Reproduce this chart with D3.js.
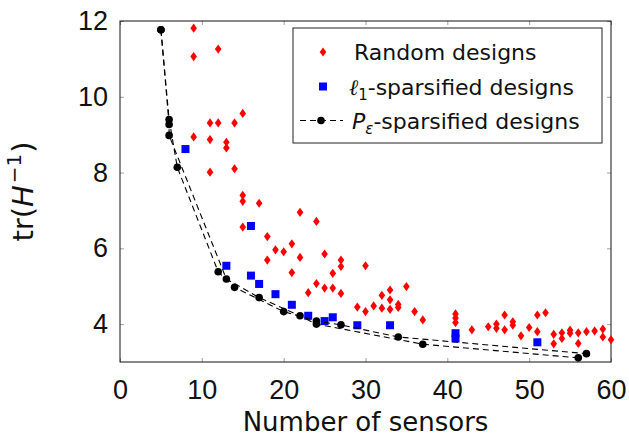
<!DOCTYPE html>
<html>
<head>
<meta charset="utf-8">
<script src="https://cdn.jsdelivr.net/npm/d3@7"></script>
<style>
  body { margin: 0; background: #fff; }
  svg { font-family: "DejaVu Sans", sans-serif; }
</style>
</head>
<body>
<svg width="629" height="438"></svg>
<script>
// canvas size and plot frame
const w = 629;
const h = 438;
const padLeft = 120, padRight = 611, padTop = 21, padBottom = 362;

// random designs (number of sensors, trace)
const randomX = [9, 9, 9, 11, 11, 11, 12, 12, 13, 13, 14, 14, 15, 15, 15, 15,
                 17, 18, 18, 19, 20, 21, 21, 22, 22, 23, 24, 24, 25, 25, 26, 26,
                 27, 27, 27, 29, 30, 30, 31, 32, 32, 33, 33, 33, 34, 34, 35, 36,
                 37, 41, 41, 41, 43, 45, 46, 46, 47, 47, 48, 48, 49, 50, 51, 51,
                 52, 53, 53, 54, 54, 55, 55, 56, 56, 57, 58, 59, 59, 60];
const randomY = [11.81, 11.06, 8.94, 9.31, 8.87, 8.01, 11.26, 9.31, 8.80, 8.65, 9.31, 8.10, 9.56, 7.40, 7.24, 6.56,
                 7.19, 6.31, 5.69, 5.96, 5.91, 6.12, 5.36, 6.95, 5.76, 4.83, 6.71, 5.07, 5.85, 4.95, 5.34, 4.95,
                 5.69, 5.52, 4.81, 4.45, 5.54, 4.33, 4.48, 4.76, 4.42, 4.90, 4.64, 4.39, 4.52, 4.44, 4.99, 4.33,
                 4.11, 4.27, 4.16, 4.04, 3.85, 3.93, 4.00, 3.89, 4.24, 3.85, 4.06, 3.97, 3.69, 3.91, 4.24, 3.80,
                 4.30, 3.73, 3.48, 3.77, 3.62, 3.84, 3.76, 3.77, 3.49, 3.80, 3.82, 3.87, 3.66, 3.59];

// l1-sparsified designs
const l1X = [8, 13, 16, 16, 17, 19, 21, 23, 25, 26, 29, 33, 41, 41, 51];
const l1Y = [8.62, 5.54, 6.59, 5.28, 5.06, 4.79, 4.51, 4.22, 4.08, 4.18, 3.97, 3.97, 3.76, 3.62, 3.52];

// P_eps-sparsified designs, two dashed runs
const pAX = [5, 6, 7, 12, 14, 20, 24, 27, 34, 57];
const pAY = [11.77, 9.40, 8.14, 5.38, 4.97, 4.33, 4.08, 3.98, 3.66, 3.22];
const pBX = [5, 6, 6, 13, 17, 22, 24, 37, 56];
const pBY = [11.77, 9.27, 8.98, 5.19, 4.70, 4.22, 4.00, 3.47, 3.11];

const xTicks = [0, 10, 20, 30, 40, 50, 60];
const yTicks = [4, 6, 8, 10, 12];

const svg = d3.select("svg")
              .attr("width", w)
              .attr("height", h);

const x = d3.scaleLinear().domain([0, 60]).range([padLeft, padRight]);
const y = d3.scaleLinear().domain([3, 12]).range([padBottom, padTop]);

// axes with inward grey ticks on all four sides
function styleAxis(g) {
    g.select(".domain").remove();
    g.selectAll(".tick line").attr("stroke", "#a0a0a0").attr("stroke-width", 1);
    g.selectAll(".tick text")
     .attr("fill", "#111")
     .style("font-family", "Liberation Sans, Arial, sans-serif")
     .style("font-size", "27px");
}

svg.append("g")
   .attr("transform", "translate(0," + padBottom + ")")
   .call(d3.axisBottom(x).tickValues(xTicks).tickSize(-4).tickPadding(13))
   .call(styleAxis)
   .selectAll(".tick text").attr("dy", "0.9em");

svg.append("g")
   .attr("transform", "translate(0," + padTop + ")")
   .call(d3.axisTop(x).tickValues(xTicks).tickSize(-4).tickFormat(""))
   .call(styleAxis);

svg.append("g")
   .attr("transform", "translate(" + padLeft + ",0)")
   .call(d3.axisLeft(y).tickValues(yTicks).tickSize(-4).tickPadding(12))
   .call(styleAxis);

svg.append("g")
   .attr("transform", "translate(" + padRight + ",0)")
   .call(d3.axisRight(y).tickValues(yTicks).tickSize(-4).tickFormat(""))
   .call(styleAxis);

// plot frame
svg.append("rect")
   .attr("x", padLeft).attr("y", padTop)
   .attr("width", padRight - padLeft).attr("height", padBottom - padTop)
   .attr("fill", "none").attr("stroke", "#111").attr("stroke-width", 1);

// random designs as red diamonds
const diamond = "M0,-4.6L3.3,0L0,4.6L-3.3,0Z";
svg.selectAll(".rnd")
   .data(randomX)
   .enter()
   .append("path")
   .attr("class", "rnd")
   .attr("d", diamond)
   .attr("transform", (d, i) => "translate(" + x(d) + "," + y(randomY[i]) + ")")
   .attr("fill", "#ff0000");

// l1 designs as blue squares
svg.selectAll(".l1")
   .data(l1X)
   .enter()
   .append("rect")
   .attr("class", "l1")
   .attr("x", d => x(d) - 4)
   .attr("y", (d, i) => y(l1Y[i]) - 4)
   .attr("width", 8).attr("height", 8)
   .attr("fill", "#0000ff");

// dashed P_eps lines
const line = d3.line().x(d => x(d[0])).y(d => y(d[1]));
[[pAX, pAY], [pBX, pBY]].forEach(([xs, ys]) => {
    const pts = xs.map((v, i) => [v, ys[i]]);
    svg.append("path")
       .attr("d", line(pts))
       .attr("fill", "none")
       .attr("stroke", "#000")
       .attr("stroke-width", 1.1)
       .attr("stroke-dasharray", "6,4");
    svg.selectAll(null)
       .data(pts)
       .enter()
       .append("circle")
       .attr("cx", d => x(d[0]))
       .attr("cy", d => y(d[1]))
       .attr("r", 3.8)
       .attr("fill", "#000");
});

// axis labels
svg.append("text")
   .attr("x", (padLeft + padRight) / 2)
   .attr("y", 431)
   .attr("text-anchor", "middle")
   .attr("fill", "#111")
   .style("font-size", "26px")
   .text("Number of sensors");

const yl = svg.append("text")
   .attr("transform", "translate(33," + ((padTop + padBottom) / 2) + ") rotate(-90)")
   .attr("text-anchor", "middle")
   .attr("fill", "#111")
   .style("font-size", "29px");
yl.append("tspan").text("tr(");
yl.append("tspan").style("font-style", "italic").text("H");
yl.append("tspan").attr("dy", -12).attr("dx", 2).style("font-size", "20px").text("\u22121");
yl.append("tspan").attr("dy", 12).attr("dx", 1).text(")");

// legend
const lg = svg.append("g");
lg.append("rect")
  .attr("x", 293).attr("y", 28)
  .attr("width", 309).attr("height", 115)
  .attr("fill", "#fff").attr("stroke", "#222").attr("stroke-width", 1);

const rows = [52, 86.5, 120.5];
lg.append("path").attr("d", diamond)
  .attr("transform", "translate(323," + rows[0] + ")")
  .attr("fill", "#ff0000");
lg.append("rect")
  .attr("x", 319).attr("y", rows[1] - 4).attr("width", 8).attr("height", 8)
  .attr("fill", "#0000ff");
lg.append("line")
  .attr("x1", 300).attr("x2", 343).attr("y1", rows[2]).attr("y2", rows[2])
  .attr("stroke", "#000").attr("stroke-width", 1.1).attr("stroke-dasharray", "6,4");
lg.append("circle").attr("cx", 321).attr("cy", rows[2]).attr("r", 3.8).attr("fill", "#000");

const t1 = lg.append("text").attr("x", 354).attr("y", rows[0] + 8)
  .attr("fill", "#111").style("font-size", "22px");
t1.text("Random designs");

const t2 = lg.append("text").attr("x", 349).attr("y", rows[1] + 8)
  .attr("fill", "#111").style("font-size", "22px");
t2.append("tspan").style("font-style", "italic").style("font-family", "DejaVu Serif").text("\u2113");
t2.append("tspan").attr("dy", 5).style("font-size", "15px").text("1");
t2.append("tspan").attr("dy", -5).text("-sparsified designs");

const t3 = lg.append("text").attr("x", 352).attr("y", rows[2] + 8)
  .attr("fill", "#111").style("font-size", "22px");
t3.append("tspan").style("font-style", "italic").text("P");
t3.append("tspan").attr("dy", 5).style("font-size", "15px").style("font-style", "italic").text("\u03b5");
t3.append("tspan").attr("dy", -5).text("-sparsified designs");
</script>
</body>
</html>
